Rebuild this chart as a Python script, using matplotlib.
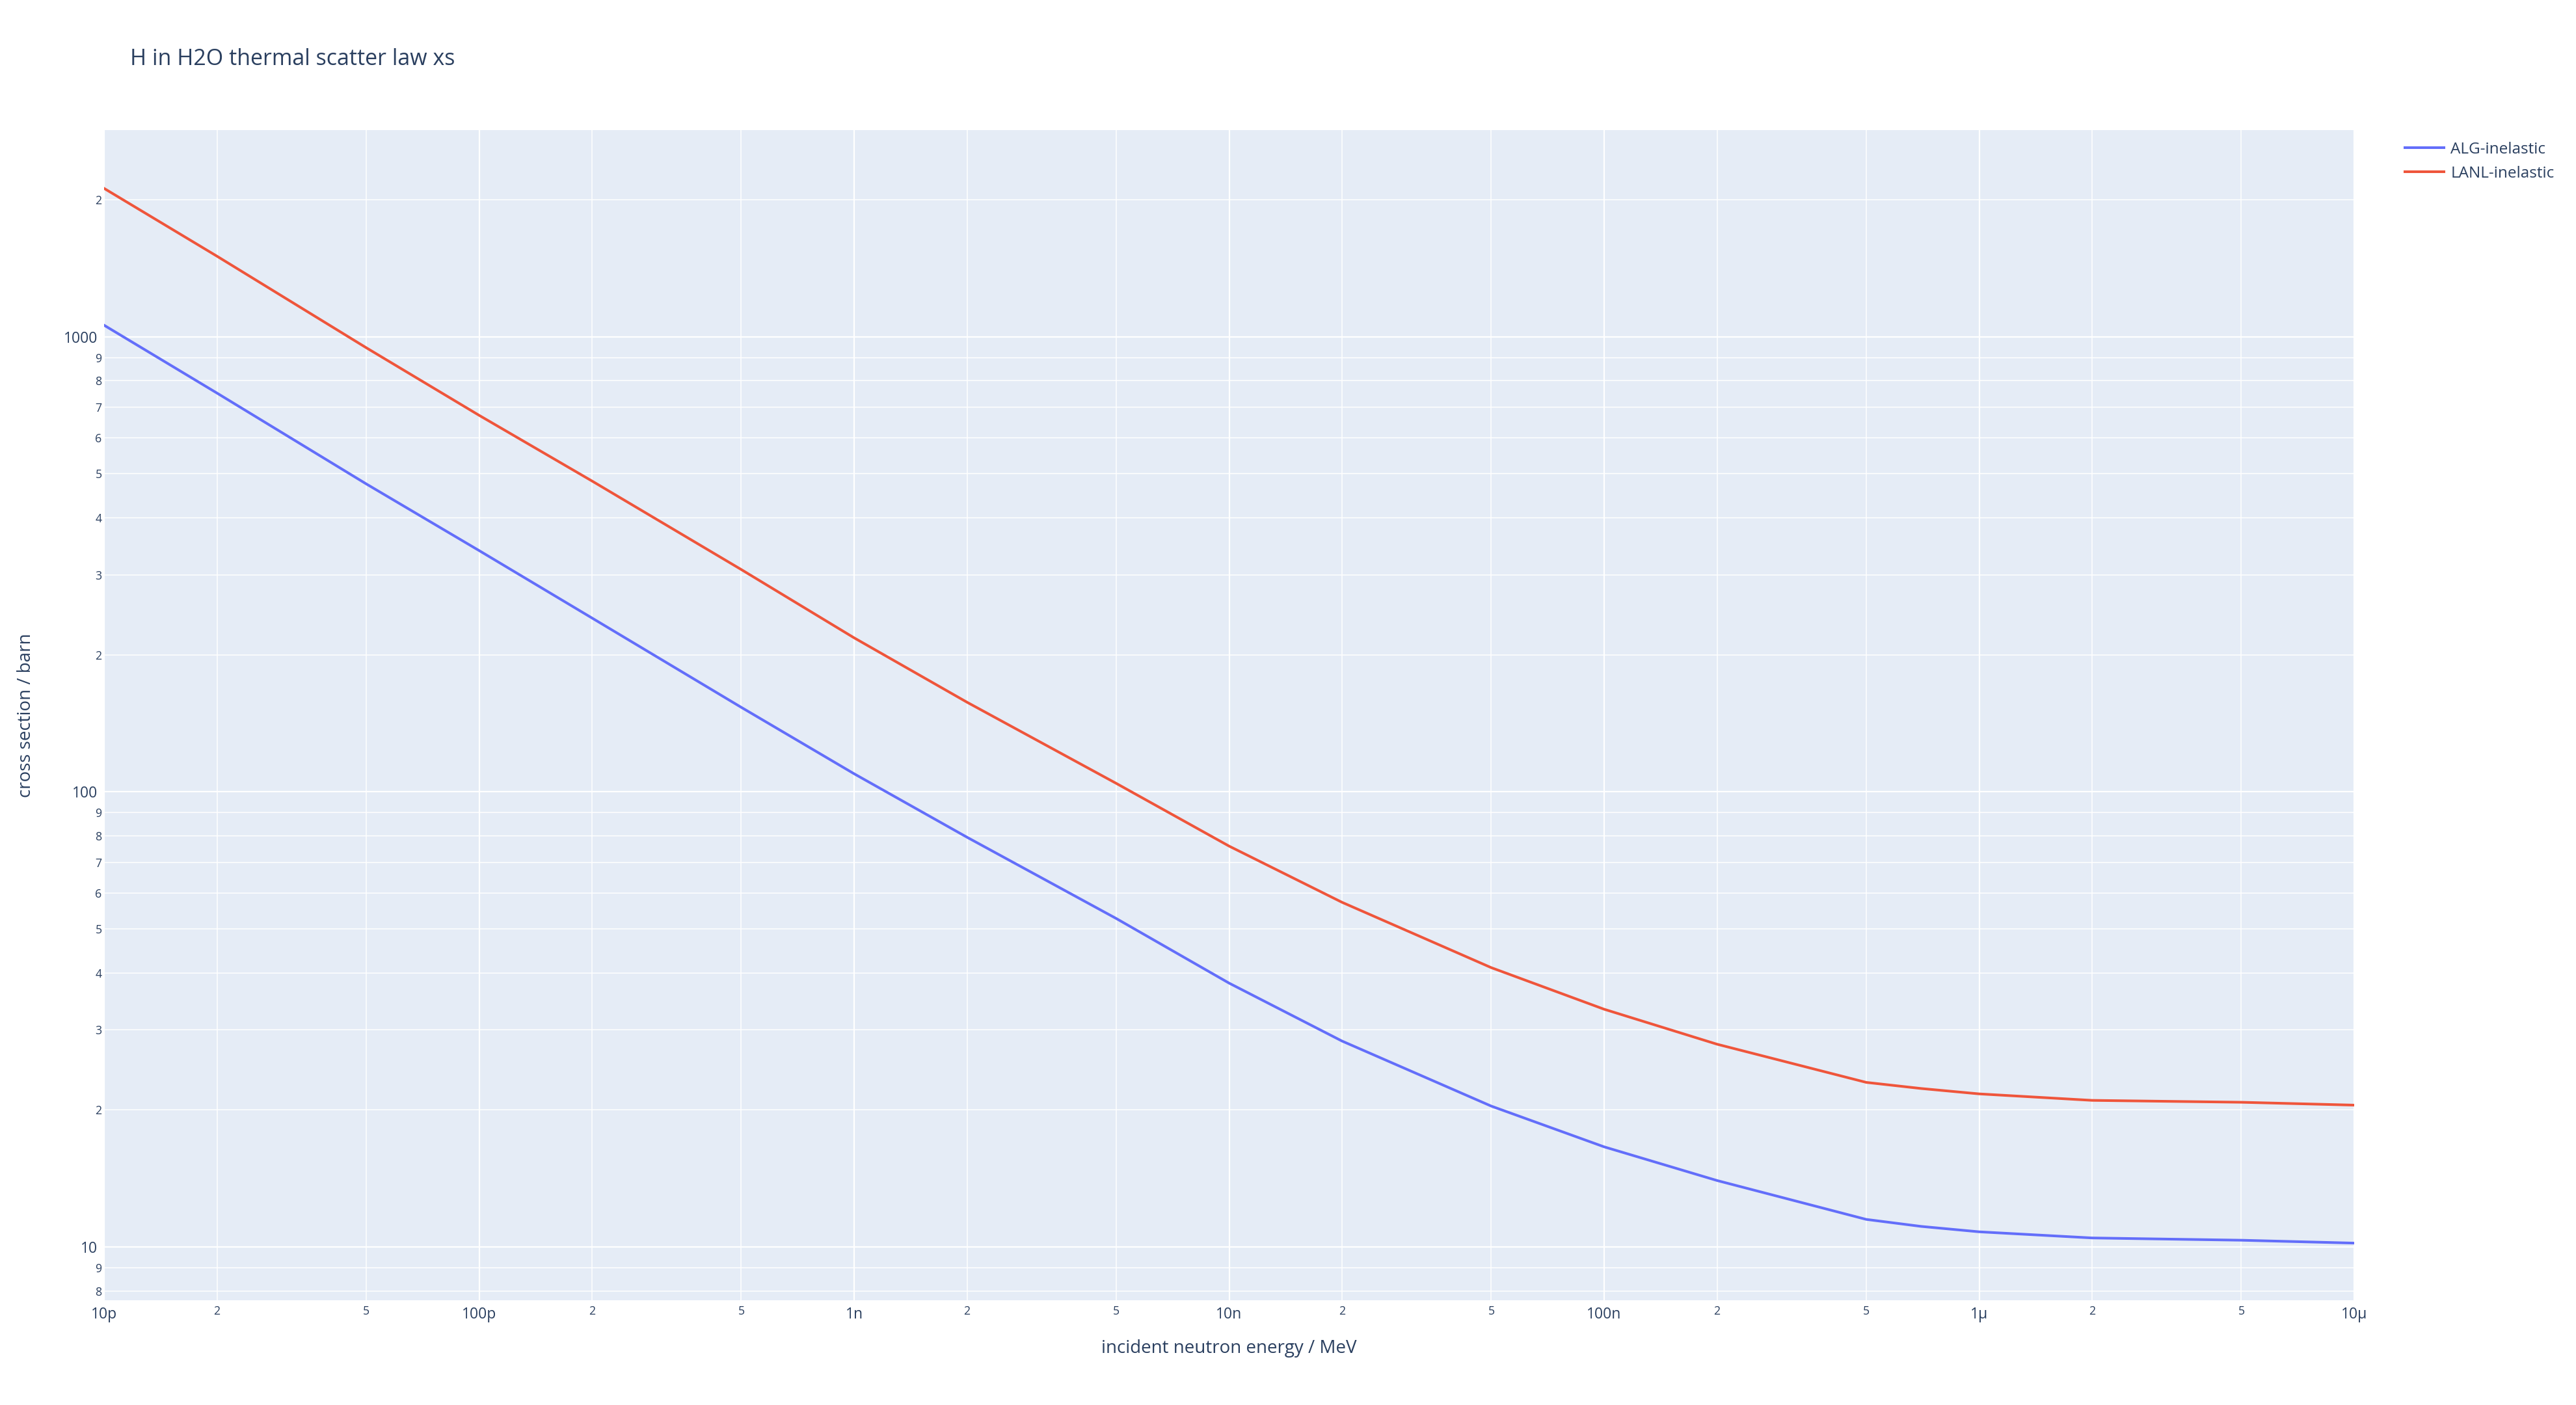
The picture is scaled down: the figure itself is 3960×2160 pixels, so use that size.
import matplotlib
matplotlib.use("Agg")
import matplotlib.pyplot as plt
from matplotlib.ticker import FixedLocator, FixedFormatter

# incident neutron energy in MeV
energy = [1e-11, 2e-11, 5e-11, 1e-10, 2e-10, 5e-10, 1e-9, 2e-9, 5e-9,
          1e-8, 2e-8, 5e-8, 1e-7, 2e-7, 5e-7, 7e-7, 1e-6, 2e-6, 5e-6, 1e-5]
alg_xs = [1060, 752, 475, 339, 241, 153.4, 109.6, 79.5, 52.7,
          38.0, 28.35, 20.4, 16.6, 14.0, 11.5, 11.1, 10.8, 10.47, 10.35, 10.2]
lanl_xs = [2118, 1503, 946, 672, 482, 308, 218, 157.4, 104.4,
           76.0, 57.2, 41.1, 33.3, 27.9, 23.0, 22.3, 21.7, 21.0, 20.8, 20.5]

series_names = ["ALG-inelastic", "LANL-inelastic"]
series_colors = ["#636efa", "#EF553B"]

x_major = [1e-11, 1e-10, 1e-9, 1e-8, 1e-7, 1e-6, 1e-5]
x_major_labels = ["10p", "100p", "1n", "10n", "100n", "1µ", "10µ"]
y_major = [10, 100, 1000]
y_major_labels = ["10", "100", "1000"]

txt = "#2a3f5f"
plt.rcParams['font.family'] = ['Open Sans', 'DejaVu Sans']

W, H = 3960, 2160
fig = plt.figure(figsize=(W / 100, H / 100), dpi=100)
left, right, top, bottom = 160, 3619, 200, 1999
ax = fig.add_axes([left / W, 1 - bottom / H, (right - left) / W, (bottom - top) / H])
ax.set_facecolor("#E5ECF6")

ax.plot(energy, alg_xs, color=series_colors[0], lw=2.9, label=series_names[0])
ax.plot(energy, lanl_xs, color=series_colors[1], lw=2.9, label=series_names[1])

ax.set_xscale("log")
ax.set_yscale("log")
ax.set_xlim(1e-11, 1e-5)
ax.set_ylim(10 ** 0.883, 10 ** 3.454)

# x ticks: decades with SI labels, 2 and 5 as minor
x_minor = []
x_minor_labels = []
for d in x_major[:-1]:
    for m in (2, 5):
        x_minor.append(m * d)
        x_minor_labels.append(str(m))
ax.xaxis.set_major_locator(FixedLocator(x_major))
ax.xaxis.set_major_formatter(FixedFormatter(x_major_labels))
ax.xaxis.set_minor_locator(FixedLocator(x_minor))
ax.xaxis.set_minor_formatter(FixedFormatter(x_minor_labels))

# y ticks: every digit
ylo, yhi = ax.get_ylim()
y_minor = []
y_minor_labels = []
for d in (1, 10, 100, 1000):
    for m in range(2, 10):
        v = m * d
        if ylo <= v <= yhi:
            y_minor.append(v)
            y_minor_labels.append(str(m))
ax.yaxis.set_major_locator(FixedLocator(y_major))
ax.yaxis.set_major_formatter(FixedFormatter(y_major_labels))
ax.yaxis.set_minor_locator(FixedLocator(y_minor))
ax.yaxis.set_minor_formatter(FixedFormatter(y_minor_labels))

ax.tick_params(which="both", length=0, colors=txt)
ax.tick_params(axis="x", which="major", labelsize=16.5, pad=7)
ax.tick_params(axis="x", which="minor", labelsize=12.8, pad=6)
ax.tick_params(axis="y", which="major", labelsize=16.5, pad=7)
ax.tick_params(axis="y", which="minor", labelsize=12.8, pad=2.5)

ax.grid(which="major", color="white", lw=1.6)
ax.grid(which="minor", color="white", lw=1.1)
ax.set_axisbelow(True)
for s in ax.spines.values():
    s.set_visible(False)

fig.text(200 / W, 1 - 100 / H, "H in H2O thermal scatter law xs",
         fontsize=24.5, color=txt, va="baseline", ha="left")
fig.text((left + right) / 2 / W, 1 - 2073 / H, "incident neutron energy / MeV",
         fontsize=20, color=txt, ha="center", va="center")
fig.text(40 / W, 1 - (top + bottom) / 2 / H, "cross section / barn",
         fontsize=20, color=txt, ha="center", va="center", rotation=90)

fig.legend(loc="upper left", bbox_to_anchor=(3697 / W, 1 - 218 / H),
           bbox_transform=fig.transFigure, frameon=False, fontsize=17.5,
           labelcolor=txt, handlelength=2.45, handletextpad=0.45,
           labelspacing=0.52, borderpad=0, borderaxespad=0)

fig.savefig("out.png", dpi=100, facecolor="white")
